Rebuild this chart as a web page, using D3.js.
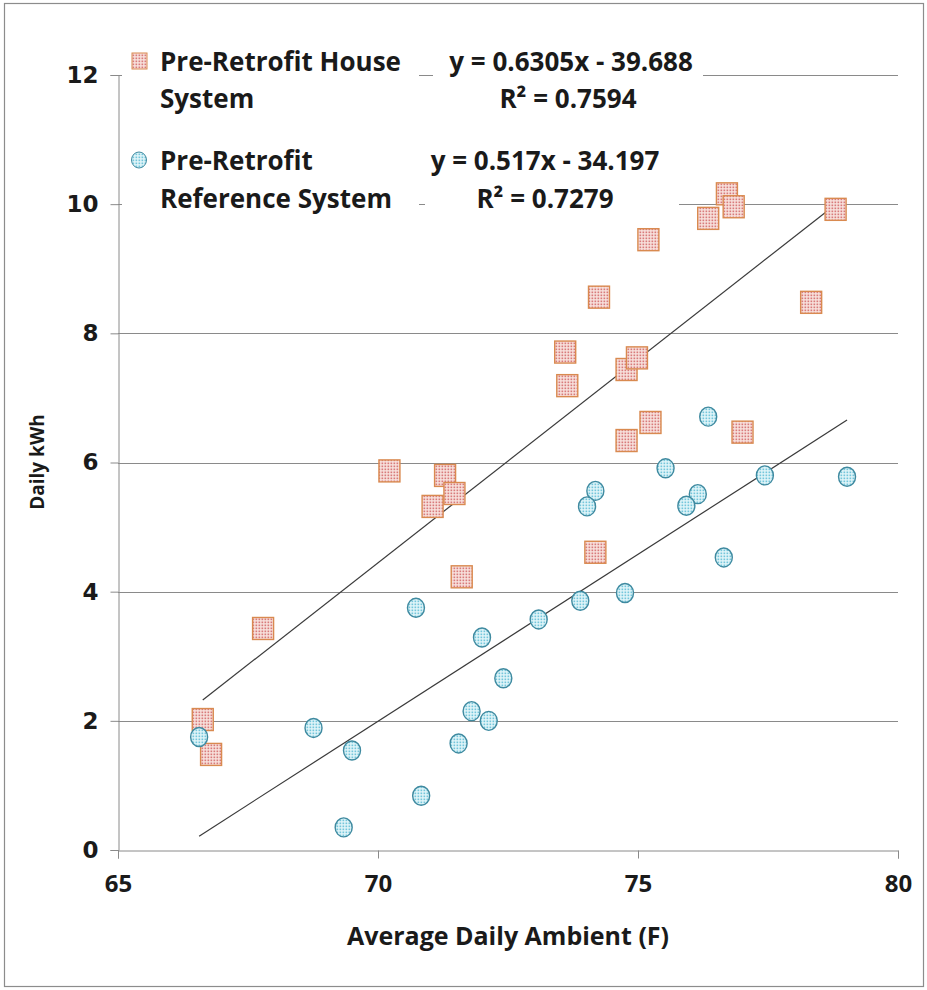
<!DOCTYPE html>
<html>
<head>
<meta charset="utf-8">
<script src="https://cdn.jsdelivr.net/npm/d3@7/dist/d3.min.js"></script>
<style>
  html, body { margin: 0; padding: 0; background: #fff; }
  svg { display: block; }
  text { font-family: "Open Sans", Lato, sans-serif; font-weight: 700; fill: #1a1a1a; }
</style>
</head>
<body>
<script>
// Pre-retrofit house system: average daily ambient (F) vs daily kWh
const houseTemp = [66.63, 66.79, 67.79, 70.22, 71.29, 71.47, 71.05, 71.61, 73.60, 73.64, 74.25, 74.18,
                   74.78, 74.98, 74.78, 75.24, 75.20, 76.35, 76.71, 76.84, 78.80, 78.33, 77.01];
const houseKwh  = [2.02, 1.48, 3.43, 5.87, 5.80, 5.52, 5.32, 4.23, 7.71, 7.19, 8.56, 4.61,
                   7.44, 7.62, 6.34, 6.62, 9.45, 9.78, 10.16, 9.96, 9.92, 8.48, 6.47];

// Pre-retrofit reference system
const refTemp = [76.35, 75.53, 77.44, 79.02, 74.18, 74.02, 76.15, 75.93, 76.65, 74.75, 73.89, 73.09,
                 70.73, 72.00, 72.41, 71.80, 72.13, 71.55, 68.76, 66.56, 69.50, 70.83, 69.34];
const refKwh  = [6.71, 5.91, 5.80, 5.78, 5.56, 5.32, 5.51, 5.33, 4.53, 3.98, 3.86, 3.57,
                 3.75, 3.29, 2.66, 2.15, 2.00, 1.65, 1.89, 1.75, 1.54, 0.84, 0.35];

// Linear fits
const houseFit = { slope: 0.6305, intercept: -39.688, r2: "0.7594" };
const refFit   = { slope: 0.517,  intercept: -34.197, r2: "0.7279" };

const seriesNames = ["Pre-Retrofit House", "System", "Pre-Retrofit", "Reference System"];
const xTicks = [65, 70, 75, 80];
const yTicks = [0, 2, 4, 6, 8, 10, 12];
const xTitle = "Average Daily Ambient (F)";
const yTitle = "Daily kWh";

const W = 927, H = 990;
const svg = d3.select("body").append("svg").attr("width", W).attr("height", H);

const defs = svg.append("defs");
const sqPat = defs.append("pattern").attr("id", "dotsRed")
  .attr("width", 3).attr("height", 3).attr("patternUnits", "userSpaceOnUse");
sqPat.append("rect").attr("width", 3).attr("height", 3).attr("fill", "#f9e4df");
sqPat.append("rect").attr("x", 0.5).attr("y", 0.5).attr("width", 1.7).attr("height", 1.7).attr("fill", "#d87b7b");
const cPat = defs.append("pattern").attr("id", "dotsBlue")
  .attr("width", 3).attr("height", 3).attr("patternUnits", "userSpaceOnUse");
cPat.append("rect").attr("width", 3).attr("height", 3).attr("fill", "#e4f6fa");
cPat.append("rect").attr("x", 0.5).attr("y", 0.5).attr("width", 1.7).attr("height", 1.7).attr("fill", "#74c6db");

// chart border
svg.append("rect").attr("x", 4.5).attr("y", 3.5).attr("width", 919).attr("height", 983)
  .attr("fill", "none").attr("stroke", "#8c8c8c").attr("stroke-width", 1.2);

const x = d3.scaleLinear().domain([65, 80]).range([118, 898]);
const y = d3.scaleLinear().domain([0, 12]).range([850, 75]);

// horizontal gridlines
svg.append("g").selectAll("line").data(yTicks.filter(d => d > 0)).join("line")
  .attr("x1", x(65)).attr("x2", x(80))
  .attr("y1", d => Math.round(y(d)) + 0.5).attr("y2", d => Math.round(y(d)) + 0.5)
  .attr("stroke", "#8a8a8a").attr("stroke-width", 1);

// y axis
const yAxis = svg.append("g").attr("transform", `translate(${x(65) + 0.5},0)`)
  .call(d3.axisLeft(y).tickValues(yTicks).tickSize(8).tickFormat(d3.format("d")));
yAxis.select(".domain").attr("stroke", "#8a8a8a");
yAxis.selectAll(".tick line").attr("stroke", "#8a8a8a");
yAxis.selectAll(".tick text").attr("x", -20)
  .style("font-family", "'DejaVu Sans', Verdana, sans-serif")
  .style("font-weight", "bold").style("font-size", "23px").attr("fill", "#111");

// x axis
const xAxis = svg.append("g").attr("transform", `translate(0,${y(0) + 0.5})`)
  .call(d3.axisBottom(x).tickValues(xTicks).tickSize(8).tickFormat(d3.format("d")));
xAxis.select(".domain").attr("stroke", "#8a8a8a");
xAxis.selectAll(".tick line").attr("stroke", "#8a8a8a");
xAxis.selectAll(".tick text").attr("y", 24)
  .style("font-family", "'Open Sans', sans-serif").style("font-weight", "700")
  .style("font-size", "24px").attr("fill", "#111");

// axis titles
svg.append("text").attr("x", 508).attr("y", 945).attr("text-anchor", "middle")
  .style("font-size", "25px").text(xTitle);
svg.append("text").attr("transform", "translate(44,462) rotate(-90)").attr("text-anchor", "middle")
  .style("font-size", "19px").text(yTitle);

// legend and fit-label backgrounds
svg.append("rect").attr("x", 122).attr("y", 40).attr("width", 297).attr("height", 182).attr("fill", "#fff");
svg.append("rect").attr("x", 433).attr("y", 44).attr("width", 270).attr("height", 74).attr("fill", "#fff");
svg.append("rect").attr("x", 425).attr("y", 140).attr("width", 254).attr("height", 80).attr("fill", "#fff");

// trend lines
function trend(fit, xs) {
  const [x0, x1] = d3.extent(xs);
  return [[x0, fit.slope * x0 + fit.intercept], [x1, fit.slope * x1 + fit.intercept]];
}
const line = d3.line().x(d => x(d[0])).y(d => y(d[1]));
svg.append("path").attr("d", line(trend(houseFit, houseTemp)))
  .attr("fill", "none").attr("stroke", "#3a3a3a").attr("stroke-width", 1.2);
svg.append("path").attr("d", line(trend(refFit, refTemp)))
  .attr("fill", "none").attr("stroke", "#3a3a3a").attr("stroke-width", 1.2);

// markers
const SQW = 21, SQH = 22;
svg.append("g").selectAll("rect").data(d3.zip(houseTemp, houseKwh)).join("rect")
  .attr("x", d => x(d[0]) - SQW / 2).attr("y", d => y(d[1]) - SQH / 2)
  .attr("width", SQW).attr("height", SQH)
  .attr("fill", "url(#dotsRed)").attr("stroke", "#d98a50").attr("stroke-width", 1.4);
svg.append("g").selectAll("ellipse").data(d3.zip(refTemp, refKwh)).join("ellipse")
  .attr("cx", d => x(d[0])).attr("cy", d => y(d[1]))
  .attr("rx", 8.5).attr("ry", 9.5)
  .attr("fill", "url(#dotsBlue)").attr("stroke", "#3f8aa0").attr("stroke-width", 1.4);

// legend
svg.append("rect").attr("x", 132).attr("y", 53).attr("width", 15).attr("height", 16)
  .attr("fill", "url(#dotsRed)").attr("stroke", "#d98a50").attr("stroke-width", 1);
svg.append("ellipse").attr("cx", 139).attr("cy", 160).attr("rx", 7.5).attr("ry", 8)
  .attr("fill", "url(#dotsBlue)").attr("stroke", "#3f8aa0").attr("stroke-width", 1);
[[seriesNames[0], 71], [seriesNames[1], 108], [seriesNames[2], 170], [seriesNames[3], 208]]
  .forEach(([t, yy]) => {
    svg.append("text").attr("x", 160).attr("y", yy)
      .style("font-size", "26px").text(t);
  });

// fit equations
function fmtEq(fit) {
  return `y = ${fit.slope}x - ${Math.abs(fit.intercept)}`;
}
svg.append("text").attr("x", 571).attr("y", 71).attr("text-anchor", "middle")
  .style("font-size", "26px").text(fmtEq(houseFit));
svg.append("text").attr("x", 568).attr("y", 108).attr("text-anchor", "middle")
  .style("font-size", "26px").text(`R² = ${houseFit.r2}`);
svg.append("text").attr("x", 545).attr("y", 170).attr("text-anchor", "middle")
  .style("font-size", "26px").text(fmtEq(refFit));
svg.append("text").attr("x", 545).attr("y", 208).attr("text-anchor", "middle")
  .style("font-size", "26px").text(`R² = ${refFit.r2}`);
</script>
</body>
</html>
